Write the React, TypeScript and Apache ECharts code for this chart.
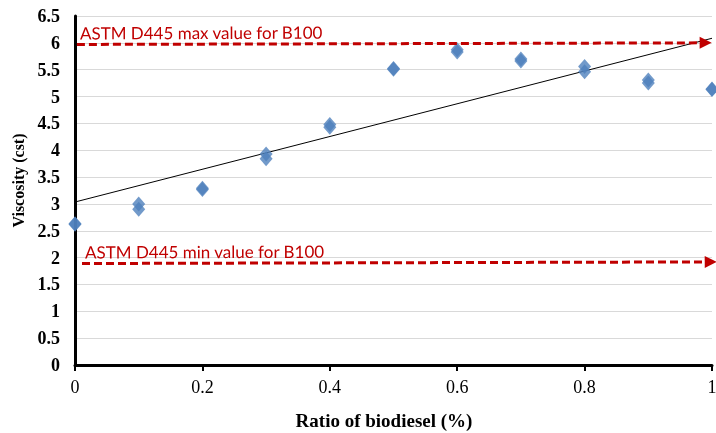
import React, { useEffect, useRef } from "react";
import * as echarts from "echarts";

const ratioValues: number[] = [0, 0, 0.1, 0.1, 0.2, 0.2, 0.3, 0.3, 0.4, 0.4, 0.5, 0.5, 0.6, 0.6, 0.7, 0.7, 0.8, 0.8, 0.9, 0.9, 1, 1];
const viscosityValues: number[] = [2.63, 2.62, 3.0, 2.9, 3.27, 3.29, 3.93, 3.84, 4.48, 4.43, 5.52, 5.51, 5.87, 5.83, 5.7, 5.66, 5.56, 5.46, 5.31, 5.25, 5.14, 5.13];

const maxLabel = "ASTM D445 max value for B100";
const minLabel = "ASTM D445 min value for B100";
const maxArrow: [number, number][] = [[0.003, 5.97], [0.99, 6.0]];
const minArrow: [number, number][] = [[0.011, 1.89], [0.998, 1.92]];

const xTitle = "Ratio of biodiesel (%)";
const yTitle = "Viscosity (cst)";

function regression(xs: number[], ys: number[]) {
  const n = xs.length;
  const mx = xs.reduce((a, b) => a + b, 0) / n;
  const my = ys.reduce((a, b) => a + b, 0) / n;
  let num = 0;
  let den = 0;
  for (let i = 0; i < n; i++) {
    num += (xs[i] - mx) * (ys[i] - my);
    den += (xs[i] - mx) * (xs[i] - mx);
  }
  const slope = num / den;
  return { slope, intercept: my - slope * mx };
}

export default function App() {
  const ref = useRef<HTMLDivElement>(null);
  useEffect(() => {
    if (!ref.current) return;
    const chart = echarts.init(ref.current, null, { renderer: "svg" });
    const { slope, intercept } = regression(ratioValues, viscosityValues);
    const trend = [0, 1].map((x) => [x, intercept + slope * x]);
    const red = "#c00000";
    const serif = "'Liberation Serif', 'Times New Roman', serif";
    const annoFont = "Lato";

    const arrowSeries = (pts: [number, number][], text: string, name: string) => ({
      name,
      type: "line",
      data: [],
      clip: false,
      silent: true,
      markLine: {
        silent: true,
        symbol: ["none", "triangle"],
        symbolSize: 12,
        lineStyle: { color: red, width: 3, type: [8, 4] },
        label: {
          show: true,
          position: "insideStartTop",
          formatter: text,
          color: red,
          fontFamily: annoFont,
          fontSize: 17,
          distance: 3,
        },
        data: [[{ coord: pts[0] }, { coord: pts[1] }]],
      },
    });

    chart.setOption({
      animation: false,
      grid: { left: 75, right: 4, top: 16, bottom: 68, outerBoundsMode: "none", containLabel: false },
      xAxis: {
        type: "value",
        min: 0,
        max: 1,
        interval: 0.2,
        name: xTitle,
        nameLocation: "middle",
        nameGap: 46,
        nameTextStyle: {
          fontFamily: serif,
          fontWeight: "bold",
          fontSize: 19,
          color: "#000",
          padding: [0, 19, 0, 0],
        },
        axisLine: { lineStyle: { color: "#000", width: 3 } },
        axisTick: { show: true, length: 6, lineStyle: { color: "#000", width: 2 } },
        axisLabel: { fontFamily: serif, fontSize: 18, color: "#000", margin: 13 },
        splitLine: { show: false },
      },
      yAxis: {
        type: "value",
        min: 0,
        max: 6.5,
        interval: 0.5,
        name: yTitle,
        nameLocation: "middle",
        nameGap: 48,
        nameRotate: 90,
        nameTextStyle: {
          fontFamily: serif,
          fontWeight: "bold",
          fontSize: 16,
          color: "#000",
          padding: [0, 0, 0, 20],
        },
        axisLine: { show: true, lineStyle: { color: "#000", width: 3 } },
        axisTick: { show: false },
        axisLabel: { fontFamily: serif, fontWeight: "bold", fontSize: 18, color: "#000", margin: 15 },
        splitLine: { show: true, lineStyle: { color: "#d9d9d9", width: 1 } },
      },
      series: [
        {
          name: "Trend",
          type: "line",
          data: trend,
          symbol: "none",
          lineStyle: { color: "#000", width: 1 },
          z: 3,
        },
        {
          name: "Viscosity",
          type: "scatter",
          data: ratioValues.map((x, i) => [x, viscosityValues[i]]),
          symbol: "diamond",
          symbolSize: [13, 15],
          itemStyle: { color: "#4f81bd" },
          z: 4,
        },
        arrowSeries(maxArrow, maxLabel, "max"),
        arrowSeries(minArrow, minLabel, "min"),
      ],
    });
    return () => chart.dispose();
  }, []);
  return <div ref={ref} style={{ position: "fixed", left: 0, top: 0, width: 716, height: 433 }} />;
}
